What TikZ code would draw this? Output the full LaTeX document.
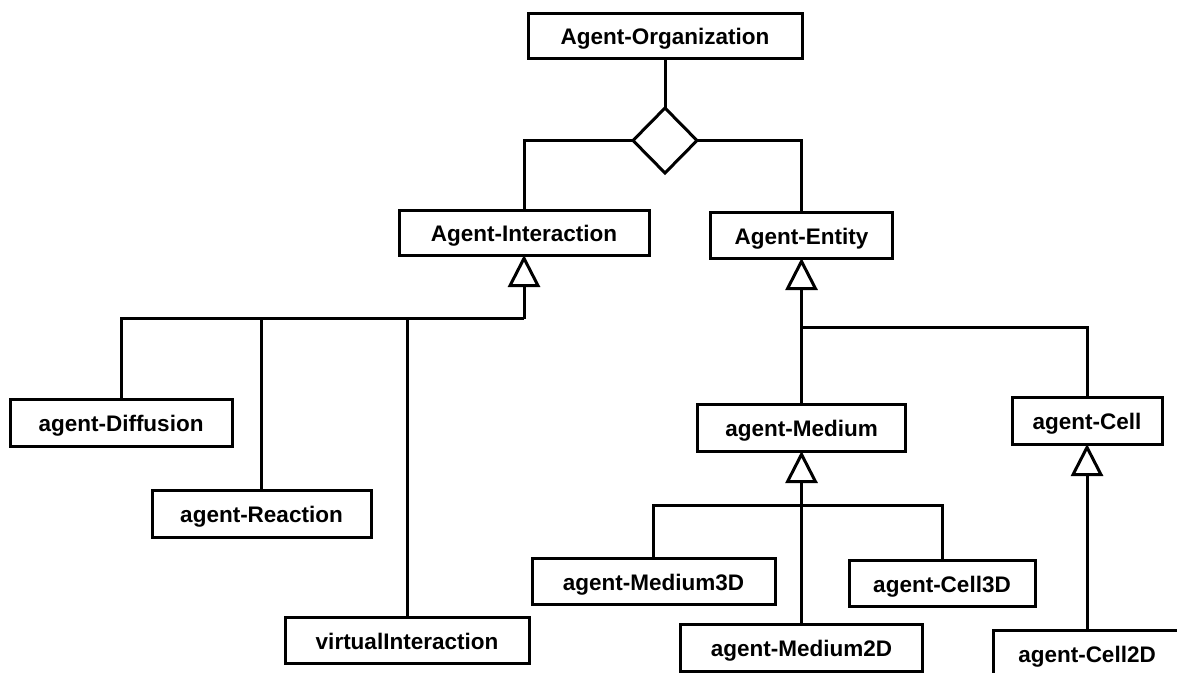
\documentclass[tikz,border=0pt]{standalone}
\usepackage{fontspec}
\setmainfont{Liberation Sans}
\usetikzlibrary{shapes.geometric,arrows.meta}
\begin{document}
\begin{tikzpicture}[x=1pt,y=-1pt,
  line width=3pt,
  cls/.style={draw, rectangle, inner sep=0pt, outer sep=0pt,
    text height=18pt, text depth=0pt,
    font=\fontsize{22.5}{27}\selectfont\bfseries},
  agg/.style={draw, diamond, aspect=1, inner sep=0pt, outer sep=0pt,
    minimum width=64pt, minimum height=65pt},
  gen/.style={-{Triangle[open, length=32pt, width=32pt, line width=3pt]}},
  wire/.style={line join=miter}]
\useasboundingbox (0,0) rectangle (1177,672);
\clip (0,0) rectangle (1177,672);

% class boxes
\node[cls, minimum width=274pt, minimum height=45pt] (org)   at (665,35.5)   {Agent-Organization};
\node[agg] (dia) at (665,140.5) {};
\node[cls, minimum width=250pt, minimum height=45pt] (inter) at (524,232.5)  {Agent-Interaction};
\node[cls, minimum width=182pt, minimum height=46pt] (ent)   at (801.5,235)  {Agent-Entity};
\node[cls, minimum width=222pt, minimum height=47pt] (diff)  at (121,422.5)  {agent-Diffusion};
\node[cls, minimum width=219pt, minimum height=47pt] (reac)  at (261.5,513.5){agent-Reaction};
\node[cls, minimum width=244pt, minimum height=46pt] (virt)  at (407,640)    {virtualInteraction};
\node[cls, minimum width=208pt, minimum height=47pt] (med)   at (801.5,427.5){agent-Medium};
\node[cls, minimum width=150pt, minimum height=47pt] (cell)  at (1087,420.5) {agent-Cell};
\node[cls, minimum width=243pt, minimum height=46pt] (m3d)   at (653.5,581)  {agent-Medium3D};
\node[cls, minimum width=186pt, minimum height=46pt] (c3d)   at (942,583)    {agent-Cell3D};
\node[cls, minimum width=242pt, minimum height=47pt] (m2d)   at (801.5,647.5){agent-Medium2D};
% this box runs past the right edge of the page
\node[cls, minimum width=212pt, minimum height=47pt] (c2d)   at (1099,653.5) {\hspace*{-24pt}agent-Cell2D};

% branching points of the generalization trees
\coordinate (jI) at (524,318.5);
\coordinate (jE) at (801.5,327);
\coordinate (jM) at (801.5,505);

% aggregation
\draw[wire] (org.south) -- (dia.north);
\draw[wire] (dia.west) -| (inter.north);
\draw[wire] (dia.east) -| (ent.north);

% Agent-Interaction subclasses
\draw[gen] (jI) -- (inter.south);
\draw[wire] (jI) -| (diff.north);
\draw[wire] (reac.north) |- (jI);
\draw[wire] (virt.north) |- (jI);

% Agent-Entity subclasses
\draw[gen] (med.north) -- (ent.south);
\draw[wire] (jE) -| (cell.north);

% agent-Medium subclasses
\draw[gen] (m2d.north) -- (med.south);
\draw[wire] (m3d.north) |- (jM) -| (c3d.north);

% agent-Cell subclass
\draw[gen] (c2d.north -| cell.south) -- (cell.south);
\end{tikzpicture}
\end{document}
